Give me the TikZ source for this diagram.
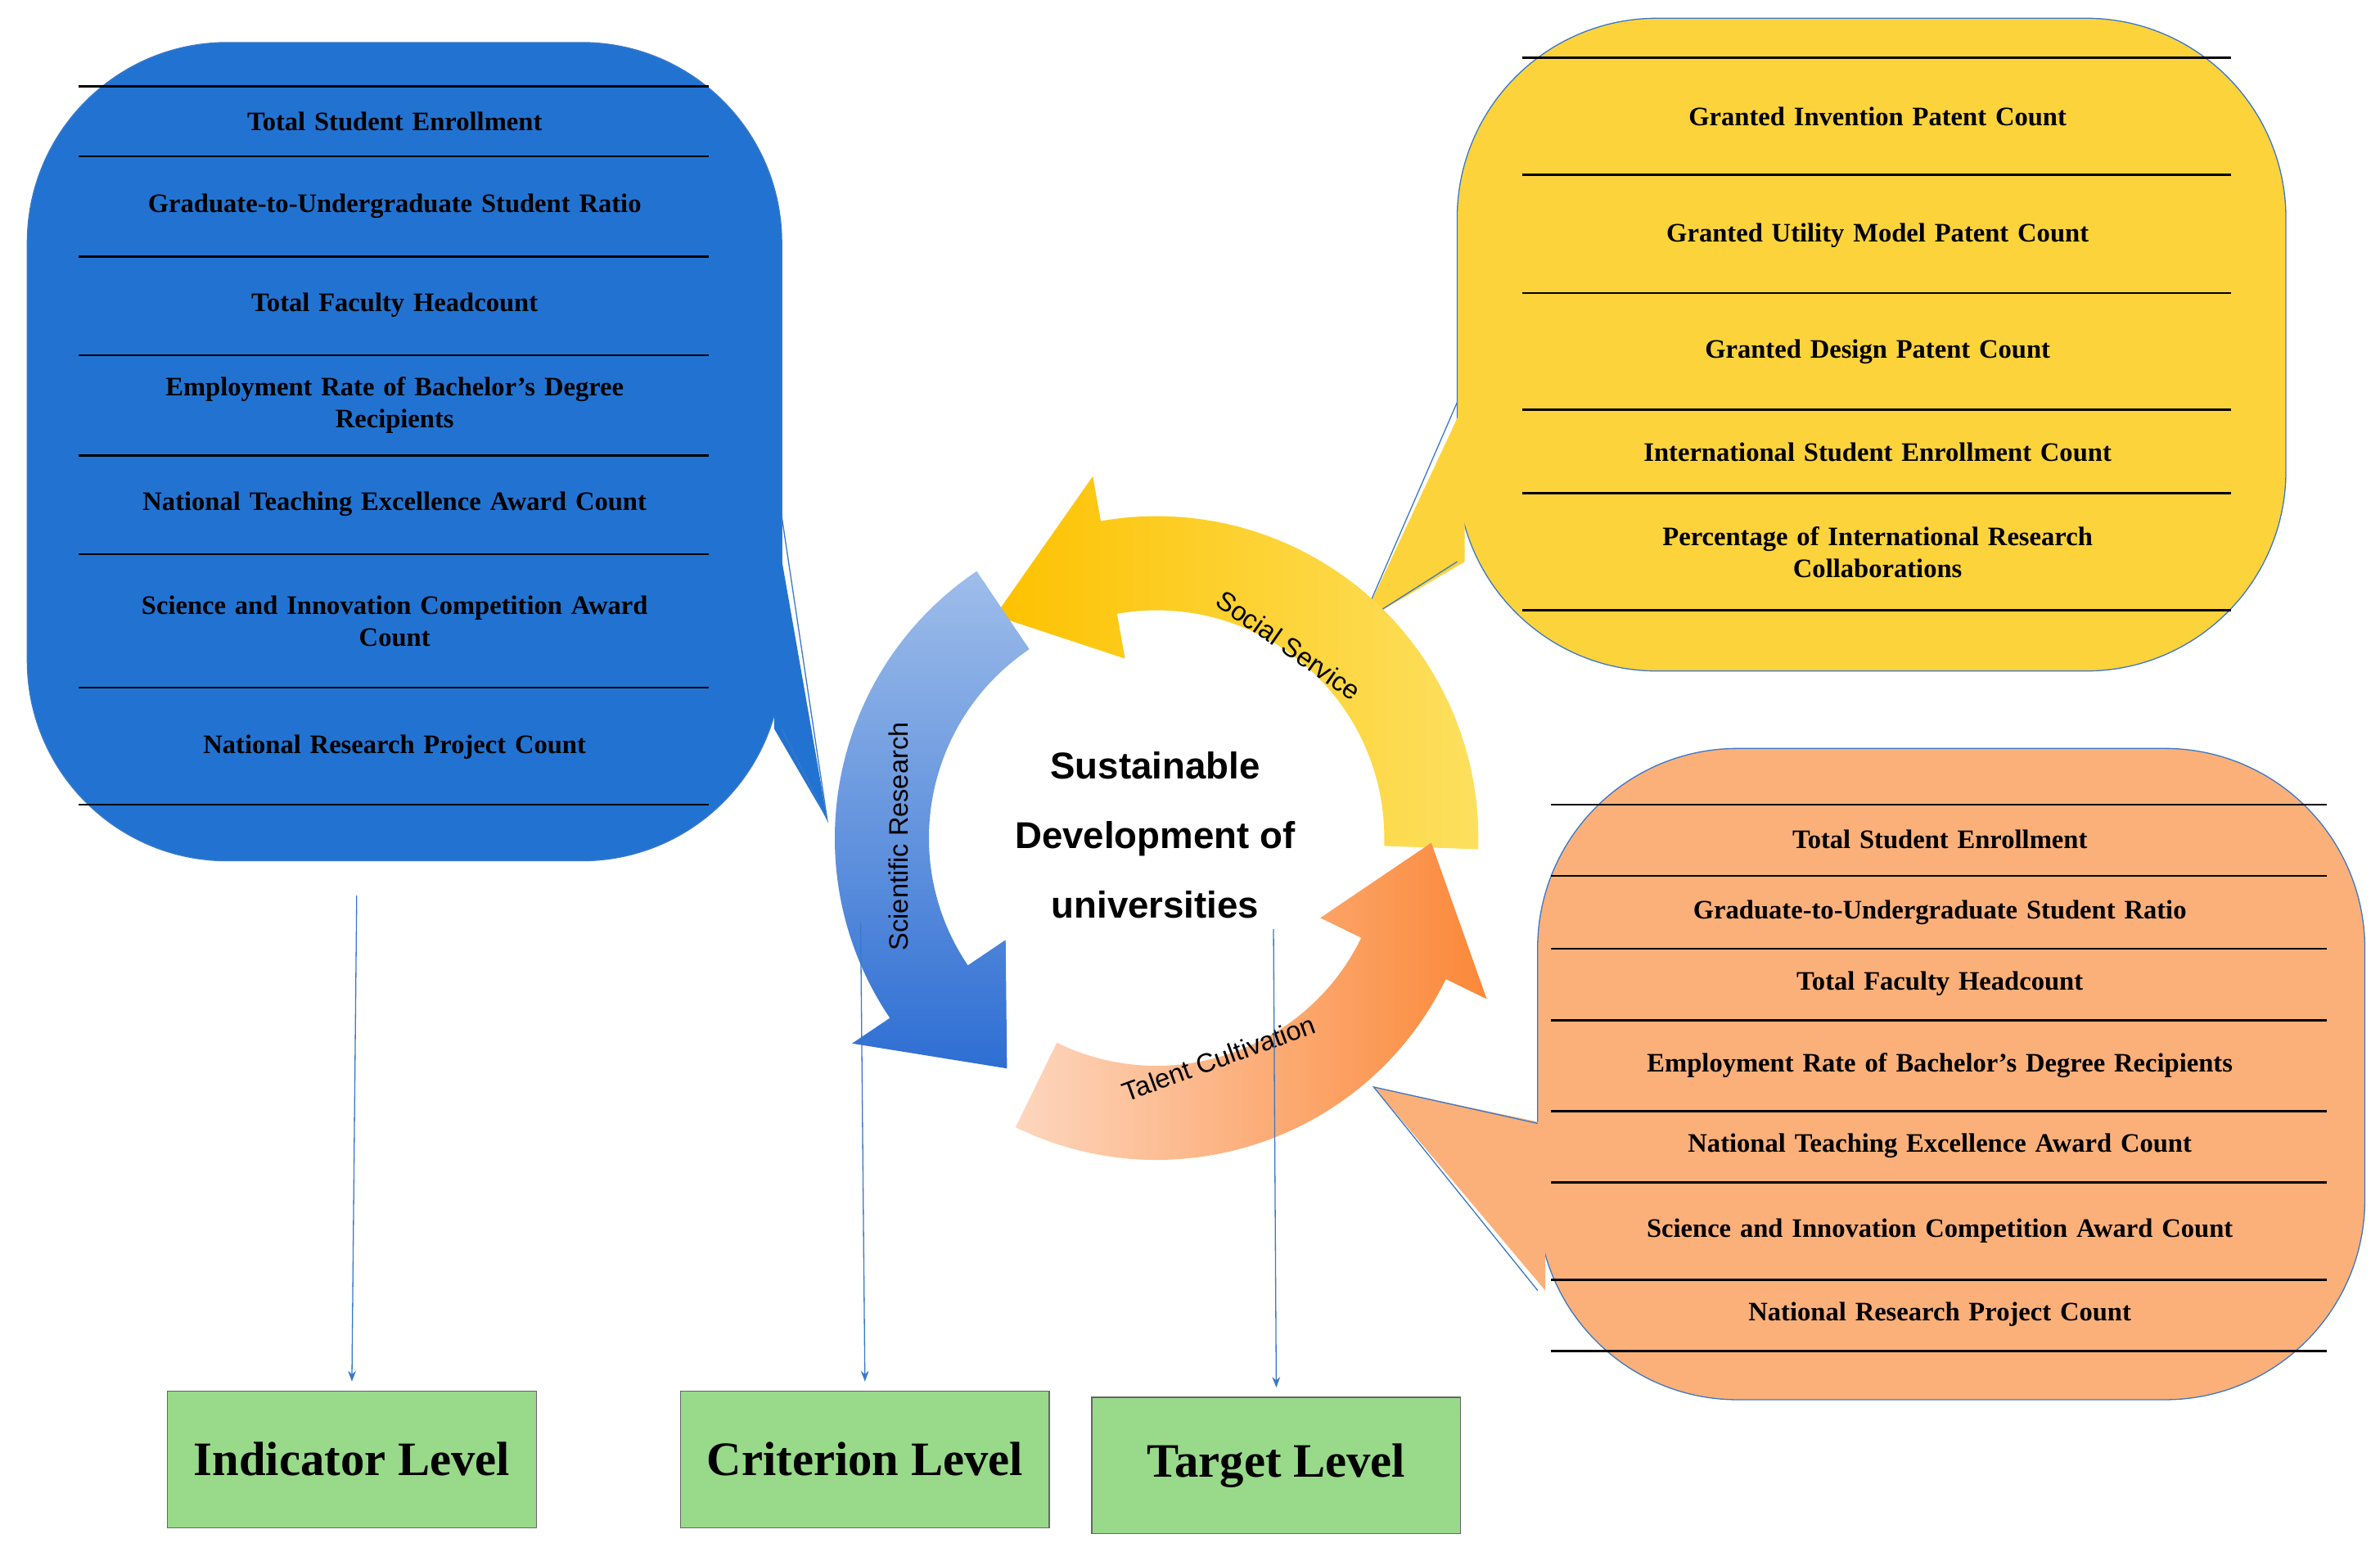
\documentclass[tikz,border=0pt]{standalone}
\usepackage{fontspec}
\setmainfont{Liberation Serif}
\newfontfamily\sansf{Liberation Sans}
\usetikzlibrary{calc,arrows.meta}
\definecolor{cblue}{HTML}{2273D1}
\definecolor{cyel}{HTML}{FDD33C}
\definecolor{cora}{HTML}{FBB07A}
\definecolor{cgreen}{HTML}{98D98A}
\definecolor{lineblue}{HTML}{3A78C8}
\definecolor{ya}{HTML}{FDC200}
\definecolor{yb}{HTML}{FDE060}
\definecolor{ba}{HTML}{9EBDEA}
\definecolor{bb}{HTML}{2E6ED3}
\definecolor{oa}{HTML}{FDD6BE}
\definecolor{ob}{HTML}{FB8838}
\begin{document}
\begin{tikzpicture}[x=0.02cm,y=0.02cm,
  item/.style={font=\fontsize{10}{12}\selectfont\bfseries,align=center,text width=8.2cm},
  level/.style={draw=black!60,fill=cgreen,minimum width=4.86cm,minimum height=1.8cm,font=\fontsize{18}{20}\selectfont\bfseries,anchor=north west},
  conn/.style={draw=lineblue,thin,-{Stealth[length=4pt]}}]
\useasboundingbox (0,0) rectangle (1568,-1022);
% blue callout
\filldraw[fill=cblue,draw=lineblue] (18,-28) [rounded corners=75] rectangle (515,-567);
\fill[cblue] (510,-340) -- (545,-540) -- (510,-480) -- cycle;
\draw[lineblue] (515,-340) -- (545,-540) -- (515,-480);
\foreach \y in {57,103,169,234,300,365,453,530} \draw[black,thick] (52,-\y) -- (467,-\y);
\node[item] (b1) at (260,-80) {Total Student Enrollment};
\node[item] (b2) at (260,-136) {Graduate-to-Undergraduate Student Ratio};
\node[item] (b3) at (260,-201) {Total Faculty Headcount};
\node[item] (b4) at (260,-267) {Employment Rate of Bachelor's Degree\\Recipients};
\node[item] (b5) at (260,-332) {National Teaching Excellence Award Count};
\node[item] (b6) at (260,-409) {Science and Innovation Competition Award\\Count};
\node[item] (b7) at (260,-492) {National Research Project Count};
% yellow callout
\filldraw[fill=cyel,draw=lineblue] (960,-12) [rounded corners=75] rectangle (1506,-442);
\fill[cyel] (965,-265) -- (897,-410) -- (965,-370) -- cycle;
\draw[lineblue] (960,-265) -- (897,-410) -- (960,-370);
\foreach \y in {38,115,193,270,325,402} \draw[black,thick] (1003,-\y) -- (1470,-\y);
\node[item] (y1) at (1237,-77) {Granted Invention Patent Count};
\node[item] (y2) at (1237,-155) {Granted Utility Model Patent Count};
\node[item] (y3) at (1237,-232) {Granted Design Patent Count};
\node[item] (y4) at (1237,-298) {International Student Enrollment Count};
\node[item] (y5) at (1237,-364) {Percentage of International Research\\Collaborations};
% orange callout
\filldraw[fill=cora,draw=lineblue] (1013,-493) [rounded corners=75] rectangle (1558,-922);
\fill[cora] (1018,-740) -- (905,-716) -- (1018,-850) -- cycle;
\draw[lineblue] (1013,-740) -- (905,-716) -- (1013,-850);
\foreach \y in {530,577,625,672,732,779,843,890} \draw[black,thick] (1022,-\y) -- (1533,-\y);
\node[item,text width=10cm] (o1) at (1278,-553) {Total Student Enrollment};
\node[item,text width=10cm] (o2) at (1278,-601) {Graduate-to-Undergraduate Student Ratio};
\node[item,text width=10cm] (o3) at (1278,-648) {Total Faculty Headcount};
\node[item,text width=10cm] (o4) at (1278,-702) {Employment Rate of Bachelor's Degree Recipients};
\node[item,text width=10cm] (o5) at (1278,-755) {National Teaching Excellence Award Count};
\node[item,text width=10cm] (o6) at (1278,-811) {Science and Innovation Competition Award Count};
\node[item,text width=10cm] (o7) at (1278,-866) {National Research Project Count};
% cycle arrows
\coordinate (c) at (762,-552);
\newcommand\cycarrow[5]{%
 \shade[#4,#5] ($(c)+(#1:150)$) -- ($(c)+(#1:212)$) arc[start angle=#1,end angle=#2,radius=212]
  -- ($(c)+(#2:242)$) -- ($(c)+(#3:181)$) -- ($(c)+(#2:120)$) -- ($(c)+(#2:150)$)
  arc[start angle=#2,end angle=#1,radius=150] -- cycle;}
\cycarrow{-2}{100}{126}{left color=ya}{right color=yb}
\cycarrow{124}{214}{237}{top color=ba}{bottom color=bb}
\cycarrow{244}{334}{359}{left color=oa}{right color=ob}
\node[font=\sansf\fontsize{10}{12}\selectfont,rotate=-35] (ss) at (849,-425) {Social Service};
\node[font=\sansf\fontsize{10}{12}\selectfont,rotate=90] (sr) at (592,-551) {Scientific Research};
\node[font=\sansf\fontsize{10}{12}\selectfont,rotate=20] (tc) at (803,-697) {Talent Cultivation};
\node[font=\sansf\fontsize{14}{26}\selectfont\bfseries,align=center] (center) at (761,-550) {Sustainable\\Development of\\universities};
% levels
\node[level] (ind) at (110,-916) {Indicator Level};
\node[level] (cri) at (448,-916) {Criterion Level};
\node[level] (tar) at (719,-920) {Target Level};
\coordinate (s1) at (235,-590);
\coordinate (s2) at (567,-608);
\coordinate (s3) at (839,-612);
\draw[conn] (s1) -- ($(ind.north)+(0,6)$);
\draw[conn] (s2) -- ($(cri.north)+(0,6)$);
\draw[conn] (s3) -- ($(tar.north)+(0,6)$);
\end{tikzpicture}
\end{document}
